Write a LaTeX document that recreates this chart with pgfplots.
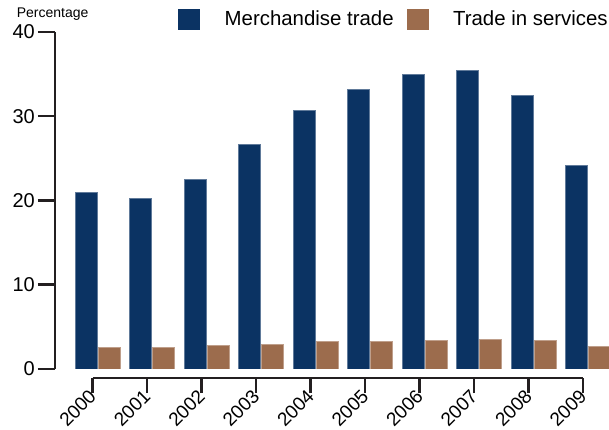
\documentclass[border=0pt]{standalone}
\usepackage{fontspec}
\setmainfont{Liberation Sans}
\usepackage{pgfplots}
\pgfplotsset{compat=1.18}
\usetikzlibrary{calc}
\definecolor{navy}{RGB}{11,51,99}
\definecolor{brownbar}{RGB}{156,108,77}
\definecolor{axisblack}{RGB}{35,31,32}
\begin{document}
\begin{tikzpicture}
\begin{axis}[name=main, scale only axis, width=554pt, height=337pt,
  xmin=-0.78, xmax=9.385, ymin=0, ymax=40,
  axis x line=none, axis y line=left,
  y axis line style={-, line width=2.5pt, color=axisblack},
  ytick={0,10,20,30,40}, tick align=outside, major tick length=17pt,
  ytick style={line width=2.5pt, color=axisblack},
  yticklabel style={font=\fontsize{20}{24}\selectfont, /pgf/number format/assume math mode=true, inner sep=0pt, xshift=-3pt},
  ybar=1pt, bar width=22pt,
  legend columns=2,
  legend style={at={(0.222,1.0386)}, anchor=west, draw=none, fill=none, inner sep=0pt,
    font=\fontsize{20.4}{24}\selectfont,
    /tikz/every even column/.append style={column sep=13pt},
    nodes={inner sep=0pt}},
]
\addplot[fill=navy, draw=navy!65!white, line width=0.5pt, legend image code/.code={\fill[navy] (0pt,-10pt) rectangle (21pt,10pt); \path (46pt,0pt);}]
  coordinates {(0,21.0) (1,20.26) (2,22.5) (3,26.7) (4,30.7) (5,33.2) (6,35.0) (7,35.4) (8,32.5) (9,24.2)};
\addplot[fill=brownbar, draw=brownbar!65!white, line width=0.5pt, legend image code/.code={\fill[brownbar] (0pt,-10pt) rectangle (21pt,10pt); \path (46pt,0pt);}]
  coordinates {(0,2.53) (1,2.53) (2,2.81) (3,2.93) (4,3.24) (5,3.24) (6,3.36) (7,3.48) (8,3.36) (9,2.65)};
\legend{Merchandise trade, Trade in services}
\end{axis}
\begin{axis}[at={($(main.south west)+(37.7pt,-9pt)$)}, anchor=south west,
  scale only axis, width=490.3pt, height=5pt,
  xmin=0, xmax=9, ymin=0, ymax=1,
  axis x line=bottom, axis y line=none,
  x axis line style={-, line width=2.5pt, color=axisblack},
  xtick={0,...,9}, xticklabels={2000,2001,2002,2003,2004,2005,2006,2007,2008,2009},
  tick align=outside, major tick length=15pt,
  xtick style={line width=2.5pt, color=axisblack},
  xticklabel style={rotate=45, anchor=east, font=\fontsize{19}{22}\selectfont, inner sep=0pt},
]
\end{axis}
\node[anchor=east, font=\fontsize{14}{16}\selectfont] at ($(main.north west)+(37pt,18pt)$) {Percentage};
\pgfresetboundingbox
\path[use as bounding box] ($(main.south west)+(-55pt,-61pt)$) rectangle ++(609pt,430pt);
\end{tikzpicture}
\end{document}
